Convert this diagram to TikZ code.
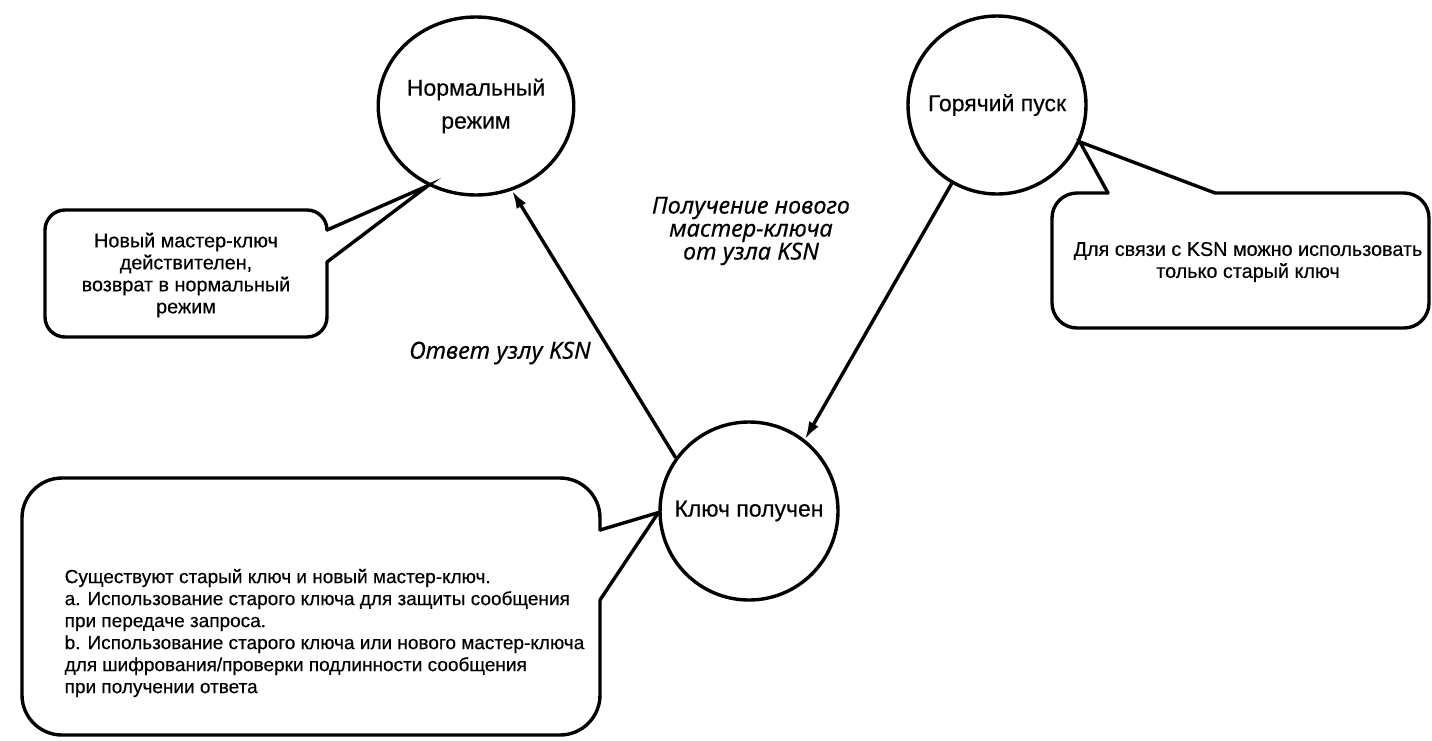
\documentclass[tikz,border=0pt]{standalone}
\usepackage{fontspec}
\setmainfont{Liberation Sans}[FakeBold=0.4]
\newfontfamily\labelfont{Noto Sans}[FakeBold=0.3]
\usetikzlibrary{arrows.meta,shapes.geometric}
\begin{document}
\begin{tikzpicture}[x=1pt,y=-1pt,
  line width=3.4pt,
  state/.style={circle,draw,minimum size=178pt,inner sep=0pt,align=center,
    font=\fontsize{23}{33}\selectfont},
  flow/.style={-{Latex[length=18pt,width=11pt]}},
  edgelabel/.style={align=center,font=\labelfont\fontsize{23.5}{23}\selectfont\itshape},
  note/.style={align=center,inner sep=0pt,font=\fontsize{19.8}{22}\selectfont},
  bubble/.style={line cap=round,line join=round},
  pointer/.style={line cap=round,line join=miter}
]
\useasboundingbox (0,0) rectangle (1432,740);

% states
\node[state,ellipse,minimum width=162pt,minimum height=178pt] (norm) at (476,106) {Нормальный\\режим};
\node[state] (hot) at (997,105) {Горячий пуск};
\node[state] (key) at (749,511) {Ключ получен};

% transitions
\draw[flow] (key.144) -- (norm.-67);
\draw[flow] (hot.240) -- (key.52);

\node[edgelabel] (lblget) at (751,231) {Получение нового\\мастер-ключа\\от узла KSN};
\node[edgelabel] (lblans) at (500,353) {Ответ узлу KSN};

% note attached to the normal state
\draw[bubble,rounded corners=20pt] (327,230) -- (327,210) -- (45,210) -- (45,337) -- (327,337) -- (327,262);
\draw[pointer] (327,230) -- (norm.239) -- (327,262);
\node[note] (n1) at (186,275) {Новый мастер-ключ\\действителен,\\возврат в нормальный\\режим};

% note attached to the hot start state
\draw[bubble,rounded corners=25pt] (1108,193) -- (1052,193) -- (1052,328) -- (1429,328) -- (1429,193) -- (1215,193);
\draw[pointer] (1108,193) -- (hot.-24) -- (1215,193);
\node[note] (n2) at (1248,262) {Для связи с KSN можно использовать\\только старый ключ};

% note attached to the key received state
\draw[bubble,rounded corners=40pt] (600,530) -- (600,478) -- (22,478) -- (22,735) -- (600,735) -- (600,600);
\draw[pointer] (600,530) -- (key.181) -- (600,600);
\node[note,align=left,anchor=west,font=\fontsize{19}{22}\selectfont] (n3) at (63,633)
  {Существуют старый ключ и новый мастер-ключ.\\
   a. Использование старого ключа для защиты сообщения\\
   при передаче запроса.\\
   b. Использование старого ключа или нового мастер-ключа\\
   для шифрования/проверки подлинности сообщения\\
   при получении ответа};
\end{tikzpicture}
\end{document}
